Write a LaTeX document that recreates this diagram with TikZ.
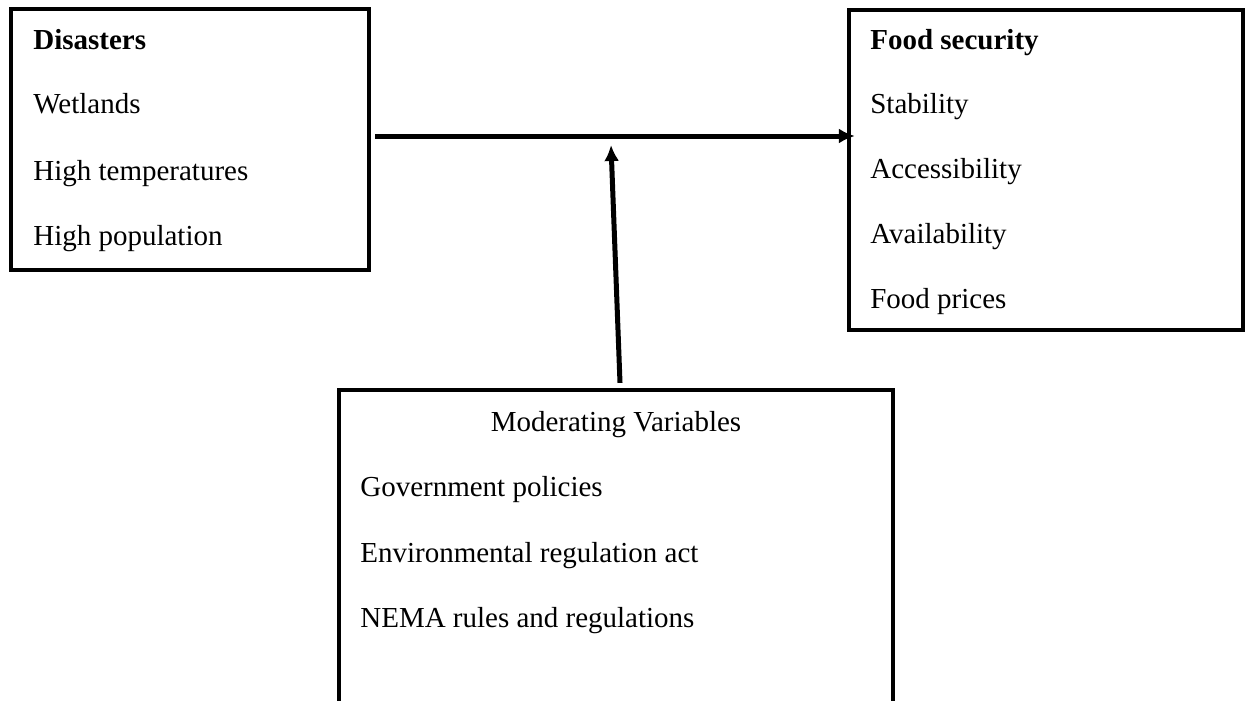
\documentclass[tikz,border=0pt]{standalone}
\usepackage{fontspec}
\setmainfont{Liberation Serif}
\usetikzlibrary{arrows.meta}

\begin{document}
\begin{tikzpicture}[x=0.02cm, y=-0.02cm,
    varbox/.style={draw, line width=0.085cm, inner sep=0pt},
    entry/.style={anchor=base west, inner sep=0pt, font=\fontsize{16.5}{20}\selectfont},
    link/.style={line width=0.1cm, -{Latex[length=0.32cm, width=0.3cm]}}]

    \useasboundingbox (0,0) rectangle (1247,700);

    \node[varbox, minimum width=7.16cm, minimum height=5.22cm] (DB) at (190, 139.5) {};
    \node[varbox, minimum width=7.88cm, minimum height=6.4cm] (FB) at (1046, 170) {};
    \node[varbox, minimum width=11.08cm, minimum height=6.26cm] (MB) at (616, 546.5) {};

    \node[entry] (D0) at (33, 49) {\textbf{Disasters}};
    \node[entry] (D1) at (33, 113) {Wetlands};
    \node[entry] (D2) at (33, 180) {High temperatures};
    \node[entry] (D3) at (33, 245) {High population};

    \node[entry] (F0) at (870, 49) {\textbf{Food security}};
    \node[entry] (F1) at (870, 113) {Stability};
    \node[entry] (F2) at (870, 178) {Accessibility};
    \node[entry] (F3) at (870, 243) {Availability};
    \node[entry] (F4) at (870, 308) {Food prices};

    \node[entry, anchor=base] (M0) at (616, 431) {Moderating Variables};
    \node[entry] (M1) at (360, 496) {Government policies};
    \node[entry] (M2) at (360, 562) {Environmental regulation act};
    \node[entry] (M3) at (360, 627) {NEMA rules and regulations};

    \coordinate (HL) at ([yshift=0.07cm]DB.east);
    \coordinate (MJ) at (611, 145);

    \draw[link, shorten <=0.08cm, shorten >=-0.16cm] (HL) -- (HL -| FB.west);
    \draw[link] ([xshift=0.08cm, yshift=0.1cm]MB.north) -- (MJ);

  \end{tikzpicture}
\end{document}
